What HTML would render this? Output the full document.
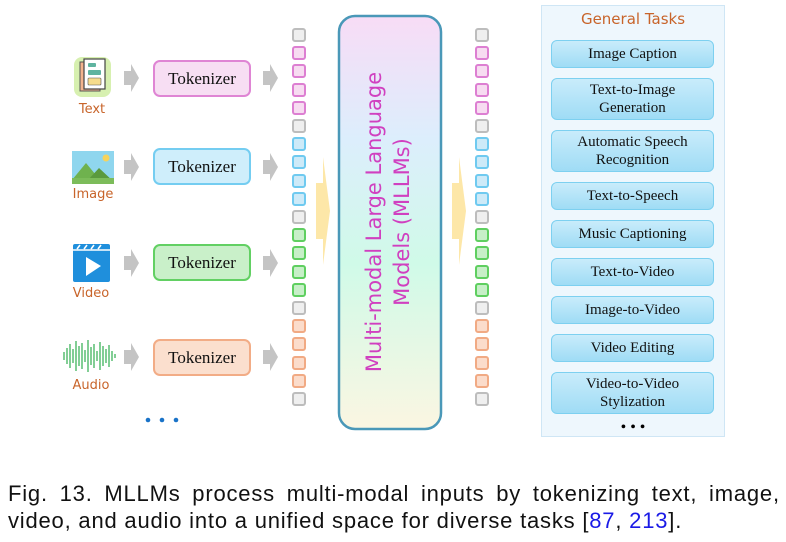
<!DOCTYPE html>
<html><head><meta charset="utf-8"><style>
*{margin:0;padding:0;box-sizing:border-box}
body{width:786px;height:542px;background:#fff;position:relative;overflow:hidden;font-family:"Liberation Serif",serif}
.a{position:absolute}
.tok{position:absolute;width:98px;height:37px;border-radius:7px;border:2px solid;font-size:17px;text-align:center;line-height:33px;color:#111}
.lab{position:absolute;font-family:"DejaVu Sans",sans-serif;font-size:13px;color:#c8642a;text-align:center;width:60px}
.sq{position:absolute;width:14px;height:14px;border-radius:3px;border:2px solid}
.g{background:#efefef;border-color:#bdbdbd}.p{background:#f7dcf1;border-color:#dd7fd2}.b{background:#cdeaf8;border-color:#6fcaf0}.gr{background:#c7efc8;border-color:#5fcf60}.o{background:#fbdccb;border-color:#f1aa84}
.task{position:absolute;left:551px;width:163px;border-radius:6px;border:1.5px solid #7dd0f0;background:linear-gradient(#c9ecfb,#9fdcf5);font-size:15px;text-align:center;color:#111;line-height:18px;display:flex;align-items:center;justify-content:center}
.cap{position:absolute;left:8px;width:772px;font-family:"Liberation Sans",sans-serif;font-size:22px;letter-spacing:0.8px;color:#111;white-space:nowrap}
</style></head><body>
<svg class="a" style="left:0;top:0" width="786" height="470">
<g fill="#c4c4c4">
<polygon points="124,71 131,71 131,64 139,78 131,92 131,85 124,85"/>
<polygon points="124,160 131,160 131,153 139,167 131,181 131,174 124,174"/>
<polygon points="124,256 131,256 131,249 139,263 131,277 131,270 124,270"/>
<polygon points="124,350 131,350 131,343 139,357 131,371 131,364 124,364"/>
<polygon points="263,71 270,71 270,64 278,78 270,92 270,85 263,85"/>
<polygon points="263,160 270,160 270,153 278,167 270,181 270,174 263,174"/>
<polygon points="263,256 270,256 270,249 278,263 270,277 270,270 263,270"/>
<polygon points="263,350 270,350 270,343 278,357 270,371 270,364 263,364"/>
</g>
<g fill="#fde7a8">
<polygon points="316,183 323,183 323,157 330,211 323,265 323,239 316,239"/>
<polygon points="452,183 459,183 459,157 466,211 459,265 459,239 452,239"/>
</g>
<rect x="74" y="57" width="37" height="40" rx="8" fill="#d7f0b0"/>
<rect x="80" y="62" width="20" height="29" fill="#f3b48e" stroke="#555" stroke-width="1"/>
<rect x="84" y="59" width="21" height="30" fill="#fff" stroke="#444" stroke-width="1.2"/>
<rect x="88" y="63" width="8" height="4" rx="1" fill="#5fb4a0"/>
<rect x="88" y="70" width="13" height="5" rx="1" fill="#5fb4a0"/>
<rect x="88" y="78" width="13" height="7" rx="1" fill="#f6dc8c" stroke="#555" stroke-width=".6"/>
<rect x="72" y="151" width="42" height="33" fill="#8fd6ee"/>
<circle cx="106" cy="158" r="3.5" fill="#f7d35c"/>
<polygon points="72,180 86,163 100,180" fill="#6fb24e"/>
<polygon points="88,180 99,168 114,182" fill="#5a9a3e"/>
<rect x="72" y="178" width="42" height="6" fill="#7cbc5a"/>
<rect x="73" y="244" width="37" height="38" rx="2" fill="#1f8fdc"/>
<g stroke="#fff" stroke-width="1.6"><line x1="77" y1="249" x2="80" y2="245"/><line x1="84" y1="249" x2="87" y2="245"/><line x1="91" y1="249" x2="94" y2="245"/><line x1="98" y1="249" x2="101" y2="245"/><line x1="73" y1="250" x2="110" y2="250"/></g>
<polygon points="86,257 86,276 101,266" fill="#fff"/>
<g stroke="#2fae4e" stroke-width="1.2">
<line x1="64" y1="352" x2="64" y2="360"/><line x1="67" y1="348" x2="67" y2="364"/><line x1="70" y1="344" x2="70" y2="368"/><line x1="73" y1="349" x2="73" y2="363"/><line x1="76" y1="341" x2="76" y2="371"/><line x1="79" y1="346" x2="79" y2="366"/><line x1="82" y1="343" x2="82" y2="369"/><line x1="85" y1="350" x2="85" y2="362"/><line x1="88" y1="340" x2="88" y2="372"/><line x1="91" y1="347" x2="91" y2="365"/><line x1="94" y1="344" x2="94" y2="368"/><line x1="97" y1="351" x2="97" y2="361"/><line x1="100" y1="342" x2="100" y2="370"/><line x1="103" y1="346" x2="103" y2="366"/><line x1="106" y1="349" x2="106" y2="363"/><line x1="109" y1="345" x2="109" y2="367"/><line x1="112" y1="351" x2="112" y2="361"/><line x1="115" y1="354" x2="115" y2="358"/>
</g>
<g fill="#1a73c8"><circle cx="148" cy="420" r="2.3"/><circle cx="162" cy="420" r="2.3"/><circle cx="176" cy="420" r="2.3"/></g>
<defs><linearGradient id="mg" x1="0" y1="0" x2="0" y2="1">
<stop offset="0" stop-color="#f8dcf6"/><stop offset=".3" stop-color="#dceefc"/><stop offset=".6" stop-color="#d0fae8"/><stop offset="1" stop-color="#fbf6e2"/></linearGradient></defs>
<rect x="339" y="16" width="102" height="413" rx="16" fill="url(#mg)" stroke="#4a98b8" stroke-width="2.5"/>
<text transform="translate(381,222) rotate(-90)" text-anchor="middle" font-family="DejaVu Sans,sans-serif" font-size="21" fill="#d040c0">Multi-modal Large Language</text>
<text transform="translate(409,222) rotate(-90)" text-anchor="middle" font-family="DejaVu Sans,sans-serif" font-size="21" fill="#d040c0">Models (MLLMs)</text>
</svg>
<div class="a" style="left:541px;top:5px;width:184px;height:432px;background:#eef7fd;border:1px solid #cfe6f5"></div>
<div class="a" style="left:541px;top:10px;width:184px;text-align:center;font-family:'DejaVu Sans',sans-serif;font-size:15px;color:#c8642a">General Tasks</div>
<div class="task" style="top:40px;height:28px">Image Caption</div>
<div class="task" style="top:78px;height:42px">Text-to-Image<br>Generation</div>
<div class="task" style="top:130px;height:42px">Automatic Speech<br>Recognition</div>
<div class="task" style="top:182px;height:28px">Text-to-Speech</div>
<div class="task" style="top:220px;height:28px">Music Captioning</div>
<div class="task" style="top:258px;height:28px">Text-to-Video</div>
<div class="task" style="top:296px;height:28px">Image-to-Video</div>
<div class="task" style="top:334px;height:28px">Video Editing</div>
<div class="task" style="top:372px;height:42px">Video-to-Video<br>Stylization</div>
<div class="a" style="left:541px;top:419px;width:184px;text-align:center;font-size:16px">• • •</div>

<div class="tok" style="left:153px;top:60px;background:#f7def3;border-color:#df85d4">Tokenizer</div>
<div class="tok" style="left:153px;top:148px;background:#cfeefb;border-color:#74cdf1">Tokenizer</div>
<div class="tok" style="left:153px;top:244px;background:#c9f0c9;border-color:#62d063">Tokenizer</div>
<div class="tok" style="left:153px;top:339px;background:#fbdfce;border-color:#f2ac86">Tokenizer</div>
<div class="lab" style="left:62px;top:102px">Text</div>
<div class="lab" style="left:63px;top:187px">Image</div>
<div class="lab" style="left:61px;top:286px">Video</div>
<div class="lab" style="left:61px;top:378px">Audio</div>

<div id="cols"></div>
<script>
var seq=['g','p','p','p','p','g','b','b','b','b','g','gr','gr','gr','gr','g','o','o','o','o','g'],h='';
for(var i=0;i<seq.length;i++){var y=28+i*18.2;
h+='<div class="sq '+seq[i]+'" style="left:292px;top:'+y+'px"></div><div class="sq '+seq[i]+'" style="left:475px;top:'+y+'px"></div>';}
document.getElementById('cols').innerHTML=h;
</script>
<div class="cap" style="top:481px;display:flex;justify-content:space-between"><span>Fig.</span><span>13.</span><span>MLLMs</span><span>process</span><span>multi-modal</span><span>inputs</span><span>by</span><span>tokenizing</span><span>text,</span><span>image,</span></div>
<div class="cap" style="top:508px">video, and audio into a unified space for diverse tasks [<span style="color:#1a1ae6">87</span>, <span style="color:#1a1ae6">213</span>].</div>
</body></html>
